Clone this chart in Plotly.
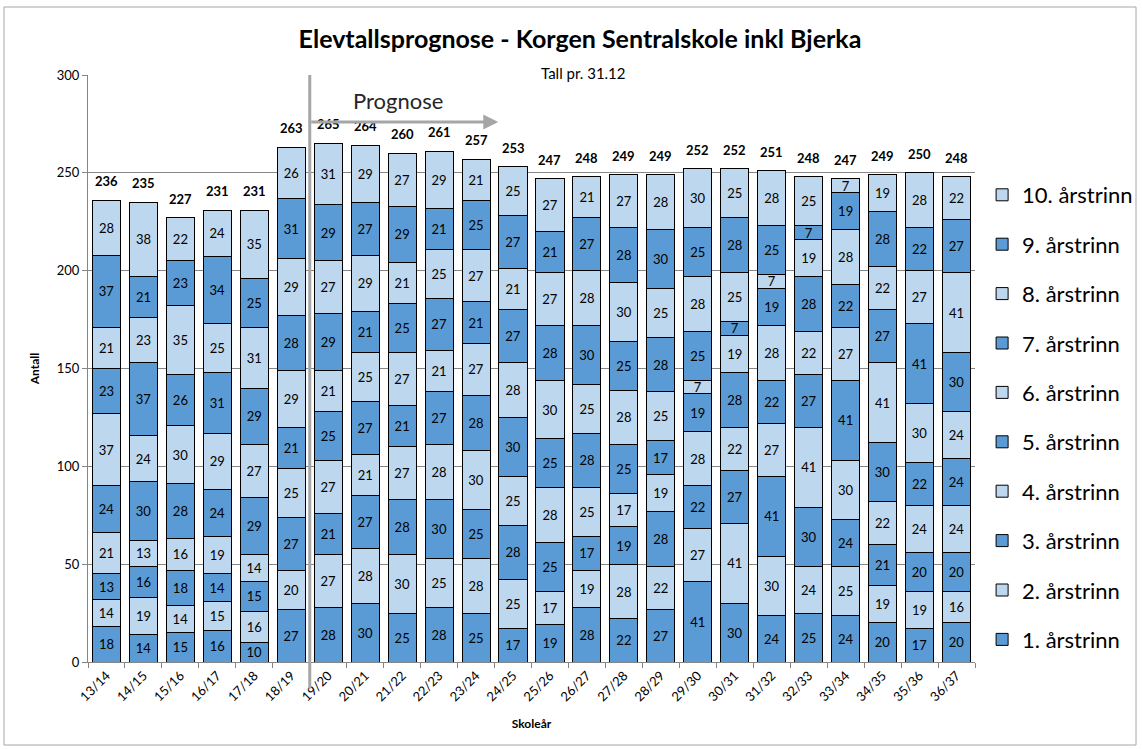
import plotly.graph_objects as go

categories = ["13/14", "14/15", "15/16", "16/17", "17/18", "18/19", "19/20", "20/21",
              "21/22", "22/23", "23/24", "24/25", "25/26", "26/27", "27/28", "28/29",
              "29/30", "30/31", "31/32", "32/33", "33/34", "34/35", "35/36", "36/37"]

trinn1 = [18, 14, 15, 16, 10, 27, 28, 30, 25, 28, 25, 17, 19, 28, 22, 27, 41, 30, 24, 25, 24, 20, 17, 20]
trinn2 = [14, 19, 14, 15, 16, 20, 27, 28, 30, 25, 28, 25, 17, 19, 28, 22, 27, 41, 30, 24, 25, 19, 19, 16]
trinn3 = [13, 16, 18, 14, 15, 27, 21, 27, 28, 30, 25, 28, 25, 17, 19, 28, 22, 27, 41, 30, 24, 21, 20, 20]
trinn4 = [21, 13, 16, 19, 14, 25, 27, 21, 27, 28, 30, 25, 28, 25, 17, 19, 28, 22, 27, 41, 30, 22, 24, 24]
trinn5 = [24, 30, 28, 24, 29, 21, 25, 27, 21, 27, 28, 30, 25, 28, 25, 17, 19, 28, 22, 27, 41, 30, 22, 24]
trinn6 = [37, 24, 30, 29, 27, 29, 21, 25, 27, 21, 27, 28, 30, 25, 28, 25, 7, 19, 28, 22, 27, 41, 30, 24]
trinn7 = [23, 37, 26, 31, 29, 28, 29, 21, 25, 27, 21, 27, 28, 30, 25, 28, 25, 7, 19, 28, 22, 27, 41, 30]
trinn8 = [21, 23, 35, 25, 31, 29, 27, 29, 21, 25, 27, 21, 27, 28, 30, 25, 28, 25, 7, 19, 28, 22, 27, 41]
trinn9 = [37, 21, 23, 34, 25, 31, 29, 27, 29, 21, 25, 27, 21, 27, 28, 30, 25, 28, 25, 7, 19, 28, 22, 27]
trinn10 = [28, 38, 22, 24, 35, 26, 31, 29, 27, 29, 21, 25, 27, 21, 27, 28, 30, 25, 28, 25, 7, 19, 28, 22]

series = [trinn1, trinn2, trinn3, trinn4, trinn5, trinn6, trinn7, trinn8, trinn9, trinn10]
names = [f"{i}. årstrinn" for i in range(1, 11)]
totals = [sum(v) for v in zip(*series)]

DARK = "#5B9BD5"
LIGHT = "#BDD7EE"
FONT = "Lato"

fig = go.Figure()
for i, (name, vals) in enumerate(zip(names, series)):
    fig.add_trace(go.Bar(
        x=categories, y=vals, name=name,
        marker=dict(color=DARK if i % 2 == 0 else LIGHT, line=dict(color="black", width=1)),
        text=[str(v) for v in vals], textposition="inside", insidetextanchor="middle",
        textangle=0, textfont=dict(size=13, color="black", family=FONT),
        legendgroup=name, legendrank=1000 - 10 * i,
    ))

for c, t in zip(categories, totals):
    fig.add_annotation(x=c, y=t, xref="x", yref="y", text=f"<b>{t}</b>", showarrow=False,
                       yanchor="middle", yshift=19,
                       font=dict(size=13, color="black", family=FONT))

# Prognose divider line
fig.add_shape(type="line", xref="x", yref="paper", x0=5.5, x1=5.5, y0=-0.045, y1=1,
              line=dict(color="#A6A6A6", width=3))
# outer frame
fig.add_shape(type="rect", xref="paper", yref="paper",
              x0=(4 - 88) / 887, x1=(1136 - 88) / 887,
              y0=(662 - 745) / 587, y1=(662 - 7) / 587,
              line=dict(color="#A6A6A6", width=1))

fig.add_annotation(x=10.6, y=276, ax=5.5, ay=276, xref="x", yref="y", axref="x", ayref="y",
                   showarrow=True, arrowhead=2, arrowsize=1, arrowwidth=3, arrowcolor="#A6A6A6",
                   text="")
fig.add_annotation(x=7.9, y=287, xref="x", yref="y", text="Prognose", showarrow=False,
                   font=dict(size=22, color="#262626", family=FONT))

fig.add_annotation(x=(583 - 88) / 887, y=(662 - 62) / 587, xref="paper", yref="paper",
                   text="Tall pr. 31.12", showarrow=False,
                   font=dict(size=15, color="black", family=FONT))

fig.update_layout(
    width=1142, height=749,
    margin=dict(l=88, r=167, t=75, b=87, autoexpand=False),
    paper_bgcolor="white", plot_bgcolor="white",
    barmode="stack", bargap=0.24,
    font=dict(family=FONT, color="black"),
    title=dict(text="<b>Elevtallsprognose - Korgen Sentralskole inkl Bjerka</b>",
               x=(580 - 88) / 887, xref="paper", xanchor="center",
               y=1 - 39 / 749, yref="container", yanchor="middle",
               font=dict(size=25, family=FONT, color="black")),
    legend=dict(traceorder="grouped", tracegroupgap=17.8,
                x=1.008, xanchor="left", y=(662 - 174) / 587, yanchor="top",
                font=dict(size=22, family=FONT, color="black"),
                bgcolor="rgba(0,0,0,0)"),
    uniformtext=dict(minsize=13, mode="show"),
    showlegend=True,
)
fig.update_xaxes(
    range=[-0.5, len(categories) - 0.5],
    showline=True, linecolor="#868686", linewidth=1,
    ticks="outside", tickson="boundaries", ticklen=5, tickcolor="#868686",
    tickangle=-45, tickfont=dict(size=13, family=FONT),
    title=dict(text="<b>Skoleår</b>", font=dict(size=12, family=FONT), standoff=16),
)
fig.update_yaxes(
    range=[0, 300], dtick=50, showgrid=True, gridcolor="#868686", gridwidth=1,
    showline=True, linecolor="#868686", linewidth=1,
    ticks="outside", ticklen=5, tickcolor="#868686",
    tickfont=dict(size=13, family=FONT),
    title=dict(text="<b>Antall</b>", font=dict(size=12, family=FONT), standoff=14),
    zeroline=False,
)

fig.write_html("out.html", config={"displayModeBar": False},
               post_script="document.body.style.margin='0px';")
